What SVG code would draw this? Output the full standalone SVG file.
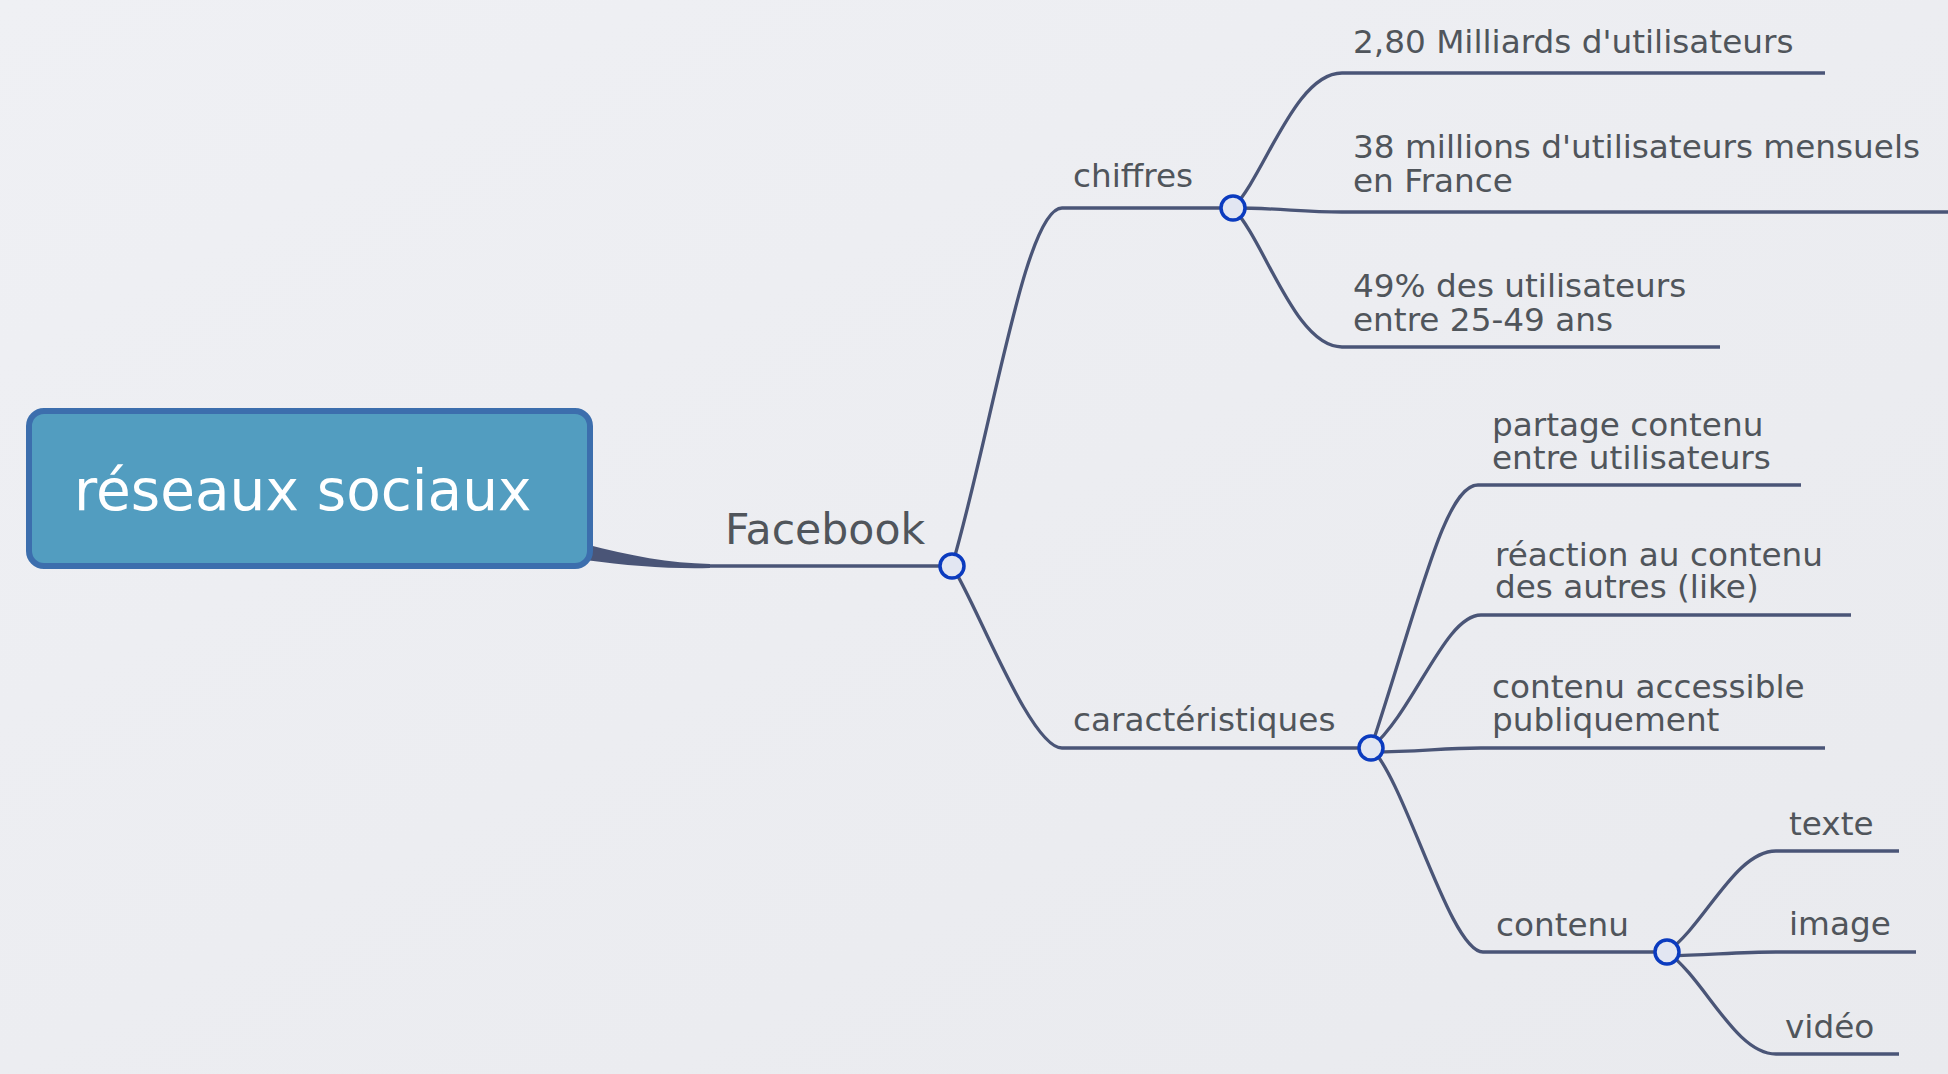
<svg xmlns="http://www.w3.org/2000/svg" width="1948" height="1074" viewBox="0 0 1948 1074">
<defs>
<linearGradient id="bg" x1="0" y1="0" x2="1" y2="1">
<stop offset="0" stop-color="#EFF0F4"/>
<stop offset="1" stop-color="#E9EAEE"/>
</linearGradient>
<style>
.conn{fill:none;stroke:#4A5577;stroke-width:3.3;stroke-linecap:butt}
.line{fill:none;stroke:#4A5577;stroke-width:3.3}
.lbl{font-family:"DejaVu Sans",Verdana,sans-serif;font-size:32.7px;fill:#50555B}
.dot{fill:#E2E6F2;stroke:#0B3BBF;stroke-width:3.5}
</style>
</defs>
<rect x="0" y="0" width="1948" height="1074" fill="url(#bg)"/>

<g id="connectors">
<path d="M585 544 C630 556 670 563 710 564 L710 568 C670 569 630 566 585 560 Z" fill="#4A5577"/>
<path class="conn" d="M708 566 L952 566"/>
<path class="conn" d="M952 566 C992 430 1025 208 1062 208"/>
<path class="conn" d="M952 566 C975 600 1030 748 1062 748"/>
<path class="conn" d="M1233 208 C1265 175 1295 73 1342 73"/>
<path class="conn" d="M1233 208 C1280 208 1300 212 1342 212"/>
<path class="conn" d="M1233 208 C1265 241 1295 347 1342 347"/>
<path class="conn" d="M1371 748 C1420 600 1445 485 1478 485"/>
<path class="conn" d="M1371 748 C1415 710 1445 615 1481 615"/>
<path class="conn" d="M1371 752 C1420 752 1440 748 1481 748"/>
<path class="conn" d="M1371 748 C1405 780 1450 952 1483 952"/>
<path class="conn" d="M1667 952 C1705 925 1735 851 1776 851"/>
<path class="conn" d="M1667 956 C1710 955 1740 952 1776 952"/>
<path class="conn" d="M1667 952 C1705 979 1735 1054 1776 1054"/>
</g>

<g id="root">
<rect x="29" y="411" width="561" height="155" rx="15" ry="15" fill="#529DC0" stroke="#3C6EAD" stroke-width="6"/>
<text x="74" y="510" font-family="DejaVu Sans, Verdana, sans-serif" font-size="56.5" fill="#FFFFFF">réseaux sociaux</text>
</g>

<g id="facebook">
<text x="725" y="544" class="lbl" style="font-size:42.6px">Facebook</text>
<circle class="dot" cx="952" cy="566" r="12"/>
</g>

<g id="chiffres">
<path class="line" d="M1062 208 L1233 208"/>
<text x="1073" y="187" class="lbl">chiffres</text>
<circle class="dot" cx="1233" cy="208" r="12"/>
</g>

<g id="milliards">
<path class="line" d="M1342 73 L1825 73"/>
<text x="1353" y="53" class="lbl">2,80 Milliards d'utilisateurs</text>
</g>

<g id="millions">
<path class="line" d="M1342 212 L1948 212"/>
<text class="lbl"><tspan x="1353" y="158">38 millions d'utilisateurs mensuels</tspan><tspan x="1353" y="192">en France</tspan></text>
</g>

<g id="pourcent">
<path class="line" d="M1342 347 L1720 347"/>
<text class="lbl"><tspan x="1353" y="297">49% des utilisateurs</tspan><tspan x="1353" y="331">entre 25-49 ans</tspan></text>
</g>

<g id="caracteristiques">
<path class="line" d="M1062 748 L1371 748"/>
<text x="1073" y="731" class="lbl">caractéristiques</text>
<circle class="dot" cx="1371" cy="748" r="12"/>
</g>

<g id="partage">
<path class="line" d="M1478 485 L1801 485"/>
<text class="lbl"><tspan x="1492" y="436">partage contenu</tspan><tspan x="1492" y="469">entre utilisateurs</tspan></text>
</g>

<g id="reaction">
<path class="line" d="M1481 615 L1851 615"/>
<text class="lbl"><tspan x="1495" y="566">réaction au contenu</tspan><tspan x="1495" y="598">des autres (like)</tspan></text>
</g>

<g id="accessible">
<path class="line" d="M1481 748 L1825 748"/>
<text class="lbl"><tspan x="1492" y="698">contenu accessible</tspan><tspan x="1492" y="731">publiquement</tspan></text>
</g>

<g id="contenu">
<path class="line" d="M1483 952 L1667 952"/>
<text x="1496" y="936" class="lbl">contenu</text>
<circle class="dot" cx="1667" cy="952" r="12"/>
</g>

<g id="texte">
<path class="line" d="M1776 851 L1899 851"/>
<text x="1789" y="835" class="lbl">texte</text>
</g>

<g id="image">
<path class="line" d="M1776 952 L1916 952"/>
<text x="1789" y="935" class="lbl">image</text>
</g>

<g id="video">
<path class="line" d="M1776 1054 L1899 1054"/>
<text x="1785" y="1038" class="lbl">vidéo</text>
</g>
</svg>
